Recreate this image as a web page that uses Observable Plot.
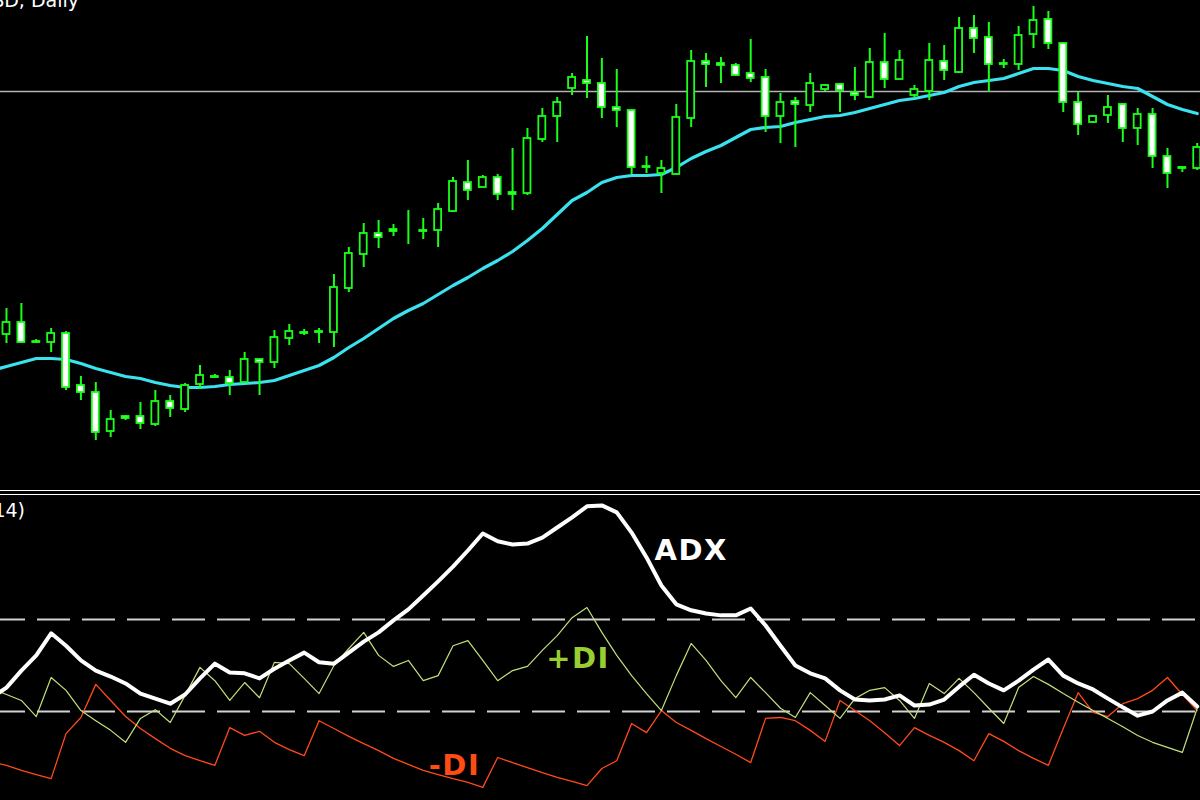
<!DOCTYPE html>
<html>
<head>
<meta charset="utf-8">
<script src="https://cdn.jsdelivr.net/npm/d3@7"></script>
<script src="https://cdn.jsdelivr.net/npm/@observablehq/plot@0.6"></script>
<style>
  html, body { margin: 0; padding: 0; background: #000; overflow: hidden; }
  #wrap { position: relative; width: 1200px; height: 800px; background: #000; }
  #top, #bottom { display: block; }
  #sep { width: 1200px; height: 3px; border-top: 1px solid #fff; border-bottom: 1px solid #fff; }
  #bottom text { letter-spacing: 1.5px; }
  .lbl { position: absolute; color: #fff; font-family: "DejaVu Sans", sans-serif; font-size: 19px; line-height: 19px; white-space: nowrap; display: flex; justify-content: flex-end; }
</style>
</head>
<body>
<div id="wrap">
  <div class="lbl" style="left:0; top:-9px; width:79px;">SD, Daily</div>
  <div id="top"></div>
  <div id="sep"></div>
  <div id="bottom"></div>
  <div class="lbl" style="left:0; top:501px; width:25px;">(14)</div>
</div>
<script>
// ---- Price panel (daily candles); first bar lies just left of the visible frame ----
const firstBar = -1;
const open = [1.3170,
1.3166,1.3178,1.3158,1.3158,1.3167,1.3115,1.3108,1.3069,1.3084,1.3084,
1.3076,1.3099,1.3091,1.3116,1.3124,1.3123,1.3118,1.3141,1.3138,1.3162,
1.3168,1.3169,1.3168,1.3212,1.3246,1.3267,1.3271,1.3268,1.3270,1.3270,
1.3289,1.3318,1.3313,1.3323,1.3308,1.3307,1.3361,1.3384,1.3412,1.3420,
1.3417,1.3393,1.3390,1.3334,1.3327,1.3326,1.3382,1.3439,1.3437,1.3435,
1.3427,1.3423,1.3384,1.3399,1.3395,1.3411,1.3416,1.3408,1.3403,1.3438,
1.3421,1.3405,1.3409,1.3439,1.3428,1.3472,1.3463,1.3437,1.3436,1.3466,
1.3481,1.3457,1.3398,1.3378,1.3385,1.3396,1.3372,1.3386,1.3344,1.3333,
1.3332];
const high = [1.3188,
1.3192,1.3197,1.3161,1.3172,1.3169,1.3124,1.3118,1.3090,1.3085,1.3098,
1.3110,1.3105,1.3117,1.3135,1.3126,1.3130,1.3148,1.3141,1.3170,1.3176,
1.3171,1.3172,1.3226,1.3253,1.3277,1.3280,1.3276,1.3290,1.3282,1.3297,
1.3323,1.3340,1.3325,1.3326,1.3352,1.3372,1.3392,1.3403,1.3427,1.3464,
1.3442,1.3431,1.3391,1.3344,1.3340,1.3396,1.3450,1.3447,1.3443,1.3437,
1.3461,1.3431,1.3407,1.3403,1.3427,1.3416,1.3417,1.3433,1.3452,1.3467,
1.3450,1.3415,1.3457,1.3455,1.3483,1.3485,1.3478,1.3441,1.3474,1.3494,
1.3489,1.3458,1.3408,1.3385,1.3405,1.3397,1.3392,1.3392,1.3352,1.3334,
1.3357];
const low = [1.3152,
1.3157,1.3157,1.3157,1.3148,1.3110,1.3100,1.3060,1.3063,1.3080,1.3071,
1.3074,1.3083,1.3088,1.3111,1.3122,1.3105,1.3117,1.3105,1.3132,1.3155,
1.3165,1.3157,1.3153,1.3208,1.3233,1.3252,1.3264,1.3256,1.3261,1.3253,
1.3288,1.3300,1.3313,1.3300,1.3290,1.3305,1.3358,1.3358,1.3405,1.3402,
1.3382,1.3373,1.3326,1.3327,1.3307,1.3325,1.3373,1.3413,1.3417,1.3424,
1.3418,1.3368,1.3357,1.3353,1.3388,1.3409,1.3388,1.3400,1.3402,1.3412,
1.3421,1.3402,1.3400,1.3420,1.3427,1.3447,1.3408,1.3432,1.3430,1.3452,
1.3451,1.3388,1.3365,1.3377,1.3377,1.3358,1.3355,1.3332,1.3312,1.3328,
1.3330];
const close = [1.3164,
1.3178,1.3158,1.3159,1.3167,1.3113,1.3108,1.3068,1.3081,1.3082,1.3077,
1.3099,1.3092,1.3115,1.3125,1.3123,1.3117,1.3141,1.3138,1.3163,1.3169,
1.3167,1.3168,1.3213,1.3247,1.3267,1.3263,1.3269,1.3268,1.3269,1.3291,
1.3319,1.3310,1.3323,1.3306,1.3306,1.3362,1.3384,1.3398,1.3423,1.3417,
1.3393,1.3390,1.3333,1.3333,1.3332,1.3383,1.3439,1.3436,1.3435,1.3425,
1.3422,1.3384,1.3398,1.3396,1.3417,1.3415,1.3410,1.3405,1.3438,1.3421,
1.3440,1.3411,1.3440,1.3430,1.3472,1.3462,1.3436,1.3436,1.3465,1.3480,
1.3457,1.3398,1.3376,1.3384,1.3393,1.3372,1.3386,1.3344,1.3327,1.3332,
1.3353];
const movingAverage = [1.3130,
1.3134,1.3138,1.3142,1.3142,1.3141,1.3137,1.3132,1.3128,1.3124,1.3122,
1.3118,1.3115,1.3113,1.3113,1.3114,1.3116,1.3117,1.3118,1.3120,1.3125,
1.3130,1.3135,1.3143,1.3153,1.3162,1.3172,1.3182,1.3190,1.3197,1.3206,
1.3215,1.3223,1.3232,1.3240,1.3249,1.3260,1.3272,1.3286,1.3300,1.3308,
1.3318,1.3323,1.3325,1.3325,1.3326,1.3333,1.3342,1.3349,1.3355,1.3363,
1.3371,1.3373,1.3374,1.3378,1.3381,1.3384,1.3385,1.3388,1.3392,1.3396,
1.3400,1.3402,1.3405,1.3408,1.3414,1.3418,1.3420,1.3422,1.3427,1.3432,
1.3432,1.3430,1.3424,1.3420,1.3417,1.3414,1.3412,1.3404,1.3396,1.3391,
1.3387];
const priceLevel = [1.3409];

// ---- ADX(14) panel ----
const adx = [23.0,
25.2,28.9,32.2,37.0,34.3,31.1,28.9,27.6,26.1,23.9,
22.8,21.7,23.7,27.2,30.4,28.5,28.3,27.2,29.3,31.1,
32.8,30.7,30.4,32.8,35.2,37.2,39.8,42.2,45.2,48.3,
51.5,55.0,58.7,57.0,56.3,56.5,57.8,60.0,62.2,64.6,
64.8,63.3,58.9,53.5,47.4,43.3,42.0,41.3,40.9,40.9,
42.4,38.7,34.3,30.0,28.3,27.2,24.6,22.6,22.4,22.6,
23.5,21.3,21.5,22.6,25.4,28.0,26.1,24.6,26.7,29.1,
31.3,27.8,26.1,24.8,22.8,20.9,19.1,20.0,22.4,24.1,
21.1];
const plusDI = [25.0,
23.7,22.4,18.9,27.4,24.6,20.2,18.0,15.9,13.3,18.5,
20.4,17.6,23.5,29.6,26.7,22.4,26.3,23.0,30.7,30.4,
27.2,23.9,30.0,33.7,37.2,32.2,29.8,31.1,26.7,27.8,
34.3,35.4,31.1,26.7,28.9,29.8,33.3,36.5,40.4,42.6,
37.2,32.2,27.8,23.9,20.2,27.8,34.8,31.1,26.7,23.0,
27.4,24.1,20.7,18.7,24.1,21.3,18.5,22.8,24.6,25.2,
22.4,18.5,26.1,23.9,27.2,24.1,20.7,17.4,25.2,27.6,
25.9,23.9,22.0,20.2,18.5,16.7,14.8,13.3,12.2,11.1,
20.7];
const minusDI = [9.0,
8.3,7.2,6.3,5.4,15.2,18.7,25.9,22.4,18.9,16.3,
14.1,12.0,10.4,9.3,8.3,16.5,14.8,15.7,13.3,11.7,
10.4,18.0,16.3,14.6,13.0,11.5,9.8,8.5,7.2,6.3,
5.4,4.6,3.5,10.0,8.9,7.8,6.7,5.7,4.8,3.9,
7.6,9.3,17.4,15.4,20.2,17.6,15.9,14.1,12.4,10.7,
8.9,18.5,18.7,18.0,15.9,13.5,22.4,20.2,18.0,15.4,
12.6,16.5,14.8,13.3,11.5,9.3,15.2,13.5,11.5,9.8,
8.3,16.3,24.1,19.8,18.9,21.7,22.8,24.6,27.4,23.7,
20.2];
const adxLevels = [20, 40];
const seriesLabels = ["ADX", "+DI", "-DI"];
const labelBar = [46.0, 38.4, 30.1];
const labelValue = [55.0, 31.4, 8.2];
const labelColors = ["#ffffff", "#9acd32", "#ff4b14"];

// ---- build ----
const candles = open.map((o, k) => ({
  i: k + firstBar, o, h: high[k], l: low[k], c: close[k], ma: movingAverage[k],
  top: Math.max(o, close[k]), bot: Math.min(o, close[k]),
  bull: close[k] >= o
}));
const ind = adx.map((a, k) => ({ i: k + firstBar, adx: a, pdi: plusDI[k], mdi: minusDI[k] }));
const labels = seriesLabels.map((t, k) => ({ t, x: labelBar[k], y: labelValue[k], c: labelColors[k] }));

const xDomain = [-0.403, 80.22];
const green = "#1aff1a";
const halfW = 0.235;

const topChart = Plot.plot({
  width: 1200, height: 490,
  marginTop: 0, marginBottom: 0, marginLeft: 0, marginRight: 0,
  style: { background: "#000" },
  x: { domain: xDomain, axis: null },
  y: { domain: [1.3010, 1.3500], axis: null },
  marks: [
    Plot.ruleY(priceLevel, { stroke: "#b4b4b4", strokeWidth: 1.5 }),
    Plot.line(candles, { x: "i", y: "ma", stroke: "#3ae2f0", strokeWidth: 3.2 }),
    Plot.ruleX(candles, { x: "i", y1: "l", y2: "h", stroke: green, strokeWidth: 2 }),
    Plot.rect(candles, {
      x1: d => d.i - halfW, x2: d => d.i + halfW, y1: "bot", y2: "top",
      fill: d => d.bull ? "#000" : "#ffffff", stroke: green, strokeWidth: 1.8
    })
  ]
});
document.getElementById("top").appendChild(topChart);

const bottomChart = Plot.plot({
  width: 1200, height: 305,
  marginTop: 0, marginBottom: 0, marginLeft: 0, marginRight: 0,
  style: { background: "#000" },
  x: { domain: xDomain, axis: null },
  y: { domain: [0.652, 66.96], axis: null },
  marks: [
    Plot.ruleY(adxLevels, { stroke: "#d2d2d2", strokeWidth: 2, strokeDasharray: "33,12", strokeDashoffset: 8 }),
    Plot.line(ind, { x: "i", y: "mdi", stroke: "#ff4a1a", strokeWidth: 1.3 }),
    Plot.line(ind, { x: "i", y: "pdi", stroke: "#c2e07a", strokeWidth: 1.2 }),
    Plot.line(ind, { x: "i", y: "adx", stroke: "#ffffff", strokeWidth: 4, strokeLinejoin: "round" }),
    Plot.text(labels, {
      x: "x", y: "y", text: "t", fill: "c",
      fontSize: 29, fontWeight: "bold", fontFamily: "DejaVu Sans, sans-serif"
    })
  ]
});
document.getElementById("bottom").appendChild(bottomChart);
</script>
</body>
</html>
